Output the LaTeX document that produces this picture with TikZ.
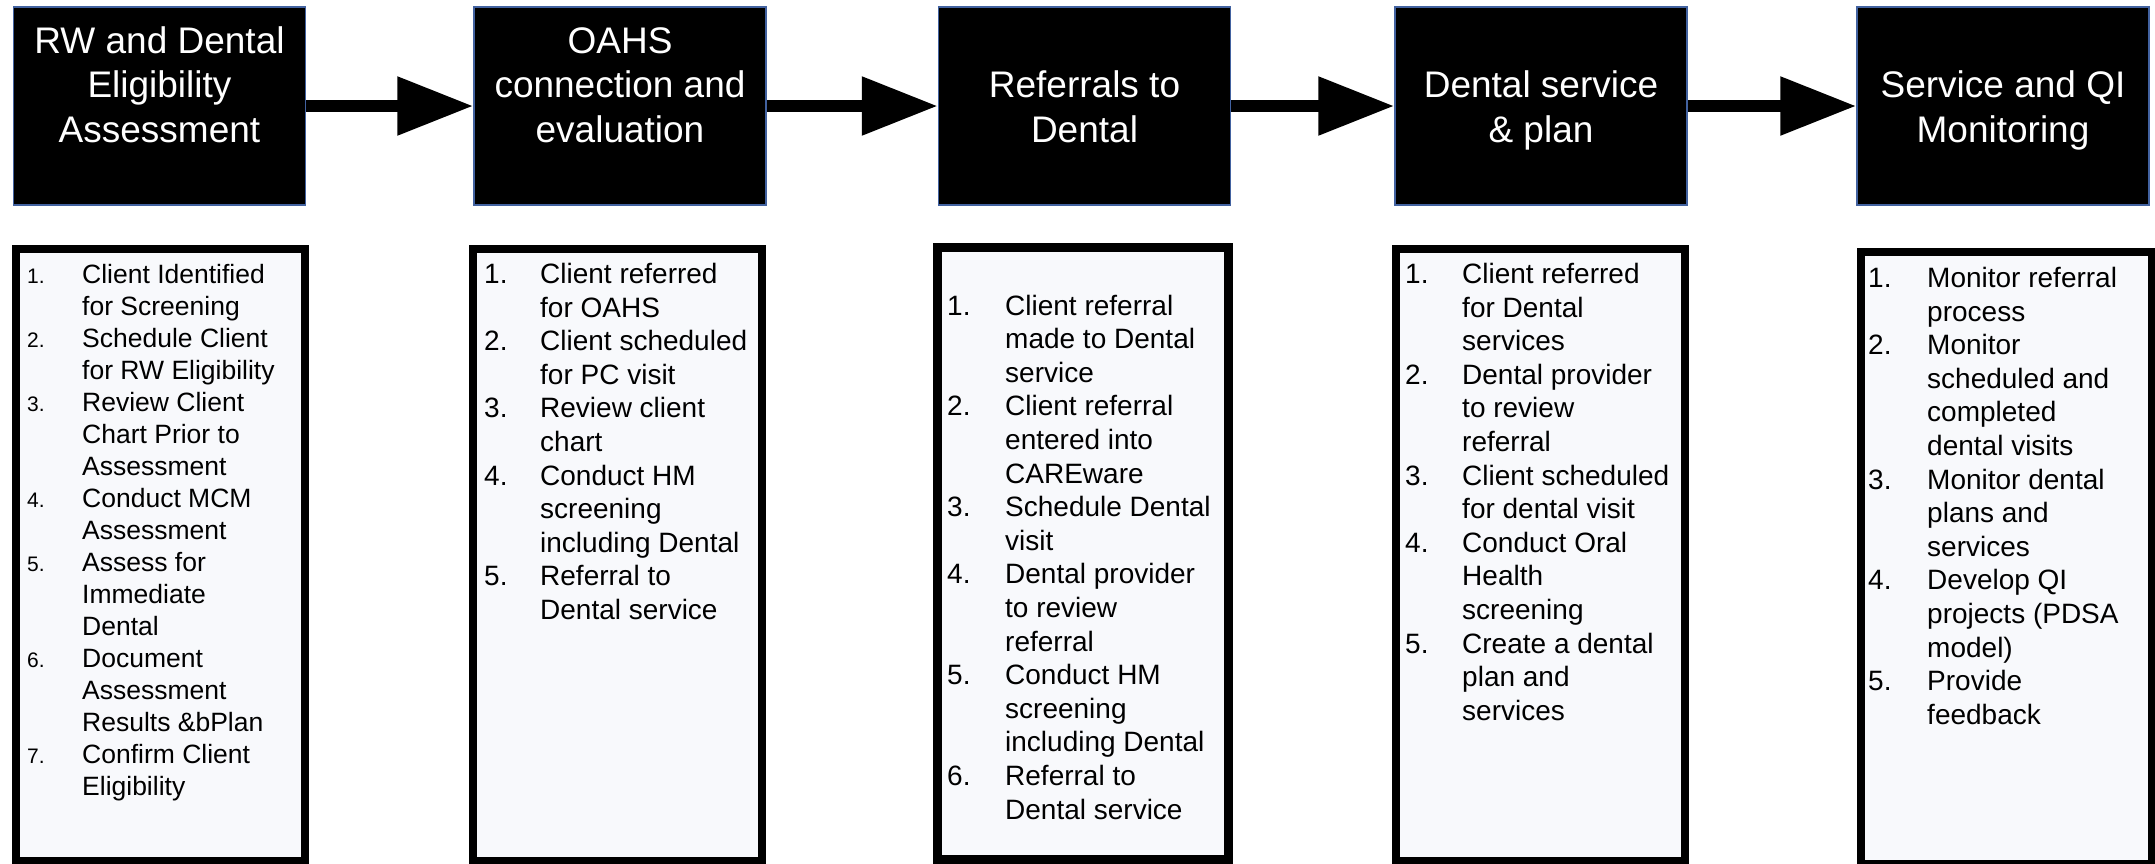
\documentclass[tikz,border=0pt]{standalone}
\usepackage{fontspec}
\setmainfont{Liberation Sans}
\usetikzlibrary{arrows.meta}

\definecolor{stepedge}{RGB}{66,98,160}
\definecolor{listfill}{RGB}{248,249,252}

\newcommand{\stepno}[1]{{\fontsize{21}{25}\selectfont #1}}

\begin{document}
\begin{tikzpicture}[
    x = 1pt, y = -1pt,
    header/.style = {draw = stepedge,
      fill = black,
      line width = 1.5pt,
      inner sep = 0pt,
      minimum width = {292pt},
      minimum height = {198pt}},
    title/.style = {text = white,
      align = center,
      anchor = base,
      inner sep = 0pt,
      font = \fontsize{37}{44.5}\selectfont},
    listbox/.style = {draw,
      fill = listfill,
      line width = 8pt,
      inner sep = 0pt},
    steps/.style = {anchor = base west,
      inner sep = 0pt,
      font = \fontsize{28}{33.6}\selectfont},
    flow/.style = {line width = 12pt,
      -{Triangle[length = 76pt, width = 56pt]}},
    ]

    \useasboundingbox (0, 0) rectangle (2155, 863);

    % phase headers
    \node at (159.5, 106)
    [header, name = rw] {};
    \node at (620, 106)
    [header, name = oahs] {};
    \node at (1084.5, 106)
    [header, name = refer] {};
    \node at (1541, 106)
    [header, name = plan] {};
    \node at (2003, 106)
    [header, name = qi] {};

    % titles sit on the same last baseline
    \node at (159.5, 142)
    [title, name = rw_t] {RW and Dental\\Eligibility\\Assessment};
    \node at (620, 142)
    [title, name = oahs_t] {OAHS\\connection and\\evaluation};
    \node at (1084.5, 142)
    [title, name = refer_t] {Referrals to\\Dental};
    \node at (1541, 142)
    [title, name = plan_t] {Dental service\\\& plan};
    \node at (2003, 142)
    [title, name = qi_t] {Service and QI\\Monitoring};

    \draw [flow] (rw.east) -- (oahs.west);
    \draw [flow] (oahs.east) -- (refer.west);
    \draw [flow] (refer.east) -- (plan.west);
    \draw [flow] (plan.east) -- (qi.west);

    % step lists
    \node at (160.5, 555)
    [listbox, minimum width = {289pt}, minimum height = {612pt},
    name = rw_l] {};
    \node at (617, 555)
    [listbox, minimum width = {289pt}, minimum height = {612pt},
    name = oahs_l] {};
    \node at (1083, 553)
    [listbox, line width = 9pt, minimum width = {291.5pt},
    minimum height = {612pt}, name = refer_l] {};
    \node at (1540, 555)
    [listbox, minimum width = {289pt}, minimum height = {612pt},
    name = plan_l] {};
    \node at (2006, 558)
    [listbox, minimum width = {291pt}, minimum height = {612pt},
    name = qi_l] {};

    \node at (27, 283)
    [steps, font = \fontsize{26.5}{32}\selectfont, name = rw_s]
    {\begin{tabular}[t]{@{}p{55pt}@{}l@{}}
      \stepno{1.} & Client Identified\\
      & for Screening\\
      \stepno{2.} & Schedule Client\\
      & for RW Eligibility\\
      \stepno{3.} & Review Client\\
      & Chart Prior to\\
      & Assessment\\
      \stepno{4.} & Conduct MCM\\
      & Assessment\\
      \stepno{5.} & Assess for\\
      & Immediate\\
      & Dental\\
      \stepno{6.} & Document\\
      & Assessment\\
      & Results \&bPlan\\
      \stepno{7.} & Confirm Client\\
      & Eligibility
    \end{tabular}};

    \node at (484, 283.5)
    [steps, name = oahs_s]
    {\begin{tabular}[t]{@{}p{56pt}@{}l@{}}
      1. & Client referred\\
      & for OAHS\\
      2. & Client scheduled\\
      & for PC visit\\
      3. & Review client\\
      & chart\\
      4. & Conduct HM\\
      & screening\\
      & including Dental\\
      5. & Referral to\\
      & Dental service
    \end{tabular}};

    \node at (947, 315)
    [steps, name = refer_s]
    {\begin{tabular}[t]{@{}p{58pt}@{}l@{}}
      1. & Client referral\\
      & made to Dental\\
      & service\\
      2. & Client referral\\
      & entered into\\
      & CAREware\\
      3. & Schedule Dental\\
      & visit\\
      4. & Dental provider\\
      & to review\\
      & referral\\
      5. & Conduct HM\\
      & screening\\
      & including Dental\\
      6. & Referral to\\
      & Dental service
    \end{tabular}};

    \node at (1405, 283.5)
    [steps, name = plan_s]
    {\begin{tabular}[t]{@{}p{57pt}@{}l@{}}
      1. & Client referred\\
      & for Dental\\
      & services\\
      2. & Dental provider\\
      & to review\\
      & referral\\
      3. & Client scheduled\\
      & for dental visit\\
      4. & Conduct Oral\\
      & Health\\
      & screening\\
      5. & Create a dental\\
      & plan and\\
      & services
    \end{tabular}};

    \node at (1868, 287.5)
    [steps, name = qi_s]
    {\begin{tabular}[t]{@{}p{59pt}@{}l@{}}
      1. & Monitor referral\\
      & process\\
      2. & Monitor\\
      & scheduled and\\
      & completed\\
      & dental visits\\
      3. & Monitor dental\\
      & plans and\\
      & services\\
      4. & Develop QI\\
      & projects (PDSA\\
      & model)\\
      5. & Provide\\
      & feedback
    \end{tabular}};
  \end{tikzpicture}
\end{document}
